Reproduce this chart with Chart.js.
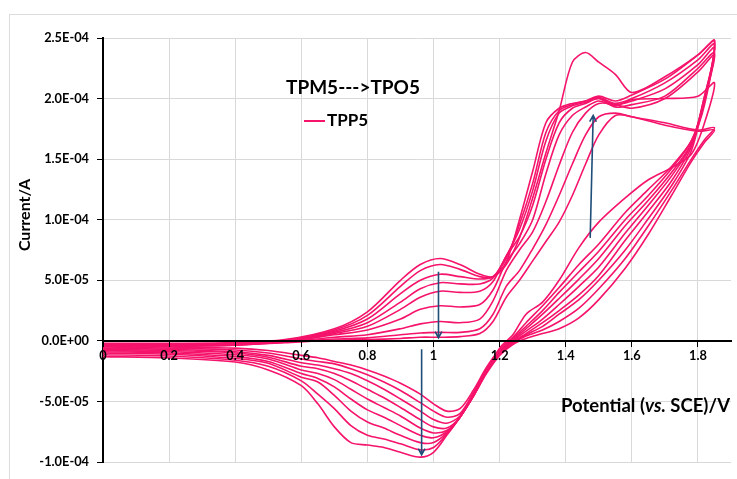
<!DOCTYPE html>
<html>
<head>
<meta charset="utf-8">
<script src="https://cdn.jsdelivr.net/npm/chart.js@4.4.0/dist/chart.umd.min.js"></script>
<style>
  body { margin: 0; background: #fff; }
  #wrap { position: relative; width: 737px; height: 479px; overflow: hidden; }
  #frame { position: absolute; left: 9px; top: 14px; width: 780px; height: 520px; border: 1px solid #dcdcdc; }
  canvas { position: absolute; left: 0; top: 0; }
</style>
</head>
<body>
<div id="wrap"><div id="frame"></div><canvas id="cv" width="737" height="479"></canvas></div>
<script>
// potential of each sweep (V)
const fwdE = [0, 0.2, 0.4, 0.55, 0.7, 0.8, 0.9, 0.96, 1.02, 1.08, 1.14, 1.18, 1.22, 1.26, 1.3, 1.34, 1.38, 1.42, 1.46, 1.5, 1.55, 1.6, 1.7, 1.8, 1.85];
const revE = [1.82, 1.78, 1.72, 1.65, 1.58, 1.5, 1.44, 1.38, 1.33, 1.28, 1.24, 1.2, 1.16, 1.12, 1.08, 1.04, 1.0, 0.96, 0.9, 0.85, 0.8, 0.75, 0.7, 0.65, 0.6, 0.5, 0.4, 0.2, 0];

// current, in units of 1e-5 A, one forward + one reverse sweep per cycle
const fwd1 = [-0.2, -0.2, -0.15, 0.1, 1.0, 2.4, 5.0, 6.3, 6.8, 6.3, 5.5, 5.3, 6.3, 8.5, 11.8, 15.5, 19.0, 23.0, 23.8, 23.0, 22.0, 20.5, 21.8, 23.6, 24.8];
const rev1 = [19.5, 16.5, 14.4, 12.5, 10.6, 8.0, 6.3, 4.4, 2.9, 1.5, 0.3, -0.7, -2.2, -4.1, -5.6, -5.8, -5.2, -4.4, -3.5, -2.9, -2.4, -2.0, -1.7, -1.4, -1.2, -0.8, -0.6, -0.5, -0.4];
const fwd2 = [-0.25, -0.25, -0.2, 0.05, 0.9, 2.1, 4.5, 5.8, 6.3, 5.9, 5.3, 5.3, 6.5, 10.0, 14.0, 18.0, 19.2, 19.6, 19.8, 20.2, 19.8, 20.3, 21.6, 23.6, 24.8];
const rev2 = [19.8, 16.5, 14.2, 12.0, 10.0, 7.4, 5.7, 4.0, 2.5, 1.2, 0.2, -0.8, -2.3, -4.3, -6.0, -6.3, -5.8, -5.1, -4.1, -3.4, -2.8, -2.3, -1.9, -1.7, -1.5, -1.0, -0.75, -0.6, -0.5];
const fwd3 = [-0.3, -0.3, -0.2, 0.0, 0.8, 1.8, 3.9, 5.0, 5.5, 5.3, 5.1, 5.3, 6.8, 9.6, 13.0, 17.2, 19.0, 19.5, 19.8, 20.1, 19.6, 20.0, 21.3, 23.2, 24.5];
const rev3 = [20.0, 16.3, 13.9, 11.6, 9.5, 6.8, 5.1, 3.5, 2.2, 1.0, 0.1, -0.9, -2.4, -4.4, -6.2, -6.8, -6.5, -5.8, -4.8, -4.0, -3.3, -2.7, -2.3, -2.0, -1.8, -1.2, -0.9, -0.7, -0.6];
const fwd4 = [-0.3, -0.3, -0.25, 0.0, 0.7, 1.5, 3.2, 4.3, 4.8, 4.7, 4.7, 5.2, 7.0, 9.2, 12.4, 16.5, 18.8, 19.4, 19.7, 20.0, 19.5, 19.8, 20.8, 22.8, 24.2];
const rev4 = [20.2, 16.2, 13.6, 11.2, 8.9, 6.1, 4.5, 3.0, 1.8, 0.8, 0.0, -0.9, -2.4, -4.5, -6.3, -7.2, -7.1, -6.5, -5.5, -4.7, -4.0, -3.3, -2.7, -2.3, -2.1, -1.35, -1.0, -0.8, -0.7];
const fwd5 = [-0.35, -0.35, -0.25, -0.05, 0.6, 1.2, 2.6, 3.6, 4.1, 4.0, 4.1, 4.9, 7.0, 8.6, 11.2, 15.0, 18.0, 19.2, 19.6, 20.0, 19.3, 19.5, 20.2, 22.5, 23.8];
const rev5 = [20.2, 16.0, 13.2, 10.7, 8.3, 5.4, 3.8, 2.5, 1.5, 0.6, -0.1, -1.0, -2.5, -4.5, -6.3, -7.4, -7.6, -7.2, -6.2, -5.5, -4.8, -4.0, -3.2, -2.7, -2.4, -1.5, -1.15, -0.9, -0.8];
const fwd6 = [-0.35, -0.35, -0.3, -0.05, 0.5, 0.9, 1.8, 2.6, 2.9, 2.8, 3.0, 4.2, 6.5, 8.0, 10.0, 13.8, 17.0, 18.6, 19.3, 19.8, 19.4, 19.9, 20.0, 20.2, 21.3];
const rev6 = [18.0, 15.4, 14.3, 13.3, 11.8, 9.8, 7.7, 5.0, 3.2, 2.2, 0.5, -0.6, -2.5, -4.5, -6.3, -7.5, -8.0, -7.8, -7.0, -6.3, -5.7, -4.8, -3.8, -3.1, -2.7, -1.7, -1.3, -1.0, -0.9];
const fwd7 = [-0.4, -0.4, -0.3, -0.1, 0.3, 0.5, 1.0, 1.4, 1.6, 1.5, 1.8, 3.3, 5.8, 7.5, 9.0, 11.5, 14.5, 17.2, 18.8, 19.6, 19.5, 19.2, 20.0, 22.2, 23.6];
const rev7 = [20.0, 15.7, 12.8, 10.1, 7.5, 5.0, 3.4, 2.2, 1.2, 0.5, -0.1, -1.0, -2.6, -4.6, -6.3, -7.6, -8.4, -8.4, -7.8, -7.2, -6.7, -5.8, -4.5, -3.4, -3.0, -1.85, -1.45, -1.1, -1.0];
const fwd8 = [-0.4, -0.4, -0.35, -0.1, 0.15, 0.25, 0.5, 0.65, 0.7, 0.7, 1.0, 2.2, 4.5, 5.8, 7.6, 9.6, 12.0, 14.6, 17.0, 18.5, 18.8, 18.5, 18.0, 17.4, 17.6];
const rev8 = [16.6, 15.0, 12.4, 9.5, 6.8, 4.3, 2.7, 1.6, 0.9, 0.4, -0.2, -1.1, -2.6, -4.6, -6.3, -7.7, -8.8, -9.0, -8.5, -8.1, -7.8, -7.0, -5.6, -4.4, -3.3, -2.1, -1.6, -1.25, -1.15];
const fwd9 = [-0.45, -0.45, -0.35, -0.15, 0.05, 0.1, 0.2, 0.3, 0.3, 0.35, 0.6, 1.6, 3.6, 5.0, 6.6, 8.2, 9.8, 12.0, 14.6, 17.0, 18.6, 18.5, 17.8, 17.3, 17.4];
const rev9 = [16.4, 14.8, 12.0, 8.8, 6.0, 3.4, 1.9, 1.0, 0.6, 0.2, -0.3, -1.2, -2.7, -4.6, -6.3, -7.8, -9.2, -9.6, -9.2, -8.8, -8.6, -8.4, -7.1, -5.2, -3.7, -2.4, -1.75, -1.4, -1.3];

const xTicks = [0, 0.2, 0.4, 0.6, 0.8, 1, 1.2, 1.4, 1.6, 1.8];
const xTickLabels = ['0', '0.2', '0.4', '0.6', '0.8', '1', '1.2', '1.4', '1.6', '1.8'];
const yTicks = [-10, -5, 0, 5, 10, 15, 20, 25];
const yTickLabels = ['-1.0E-04', '-5.0E-05', '0.0E+00', '5.0E-05', '1.0E-04', '1.5E-04', '2.0E-04', '2.5E-04'];

// blue arrows: [E, current] tail and head
const arrowFrom = [[1.015, 5.7], [0.964, -0.7], [1.474, 8.5]];
const arrowTo = [[1.015, 0.25], [0.964, -9.4], [1.483, 18.6]];

const pink = '#f5136b';
const cycles = [[fwd1, rev1], [fwd2, rev2], [fwd3, rev3], [fwd4, rev4], [fwd5, rev5], [fwd6, rev6], [fwd7, rev7], [fwd8, rev8], [fwd9, rev9]];

const datasets = cycles.map(([f, r]) => ({
  label: 'TPP5',
  data: fwdE.map((e, i) => ({ x: e, y: f[i] })).concat(revE.map((e, i) => ({ x: e, y: r[i] }))),
  showLine: true,
  borderColor: pink,
  borderWidth: 1.6,
  pointRadius: 0,
  tension: 0.3,
  fill: false
}));

const font = 'Lato, "Open Sans", sans-serif';
const tickFont = { family: font, size: 12.8, weight: 'bold' };

const overlay = {
  id: 'overlay',
  afterDatasetsDraw(chart) {
    const { ctx, chartArea, scales: { x, y } } = chart;
    ctx.save();
    // arrows
    ctx.strokeStyle = '#1f4e79';
    ctx.lineWidth = 1.6;
    arrowFrom.forEach((p, i) => {
      const x0 = x.getPixelForValue(p[0]), y0 = y.getPixelForValue(p[1]);
      const x1 = x.getPixelForValue(arrowTo[i][0]), y1 = y.getPixelForValue(arrowTo[i][1]);
      const a = Math.atan2(y1 - y0, x1 - x0);
      ctx.beginPath();
      ctx.moveTo(x0, y0);
      ctx.lineTo(x1, y1);
      ctx.moveTo(x1 - 7 * Math.cos(a - 0.5), y1 - 7 * Math.sin(a - 0.5));
      ctx.lineTo(x1, y1);
      ctx.lineTo(x1 - 7 * Math.cos(a + 0.5), y1 - 7 * Math.sin(a + 0.5));
      ctx.stroke();
    });

    // title and legend
    ctx.fillStyle = '#000';
    ctx.textBaseline = 'middle';
    ctx.textAlign = 'left';
    ctx.font = 'bold 19px ' + font;
    ctx.fillText('TPM5--->TPO5', chartArea.left + 183, chartArea.top + 50);
    ctx.strokeStyle = pink;
    ctx.lineWidth = 2;
    ctx.beginPath();
    ctx.moveTo(chartArea.left + 201, chartArea.top + 83);
    ctx.lineTo(chartArea.left + 222, chartArea.top + 83);
    ctx.stroke();
    ctx.font = 'bold 17px ' + font;
    ctx.fillText('TPP5', chartArea.left + 224, chartArea.top + 83);

    // x axis title, with "vs." in italics
    const parts = [['Potential (', 'bold'], ['vs.', 'italic bold'], [' SCE)/V', 'bold']];
    let px = chartArea.right - 1;
    const py = chartArea.top + 368;
    ctx.textAlign = 'right';
    for (let i = parts.length - 1; i >= 0; i--) {
      ctx.font = parts[i][1] + ' 18.5px ' + font;
      ctx.fillText(parts[i][0], px, py);
      px -= ctx.measureText(parts[i][0]).width;
    }

    // y axis title
    ctx.translate(25, chartArea.top + 177);
    ctx.rotate(-Math.PI / 2);
    ctx.textAlign = 'center';
    ctx.font = 'bold 16px ' + font;
    ctx.fillText('Current/A', 0, 0);
    ctx.restore();
  }
};

new Chart(document.getElementById('cv'), {
  type: 'scatter',
  data: { datasets },
  options: {
    responsive: false,
    animation: false,
    devicePixelRatio: 1,
    layout: { padding: { top: 38, right: 6, bottom: 17, left: 0 } },
    plugins: { legend: { display: false }, tooltip: { enabled: false } },
    scales: {
      // grid only, under the curves
      x: {
        type: 'linear',
        min: 0,
        max: 1.9,
        position: { y: 0 },
        afterFit: s => { s.height = 0; },
        afterBuildTicks: s => { s.ticks = xTicks.map(v => ({ value: v })); },
        grid: { color: '#d9d9d9', lineWidth: 1, drawTicks: false },
        border: { display: false },
        ticks: { display: false }
      },
      // axis line, tick marks and labels, over the curves
      xAxis: {
        type: 'linear',
        axis: 'x',
        min: 0,
        max: 1.9,
        position: { y: 0 },
        afterFit: s => { s.height = 0; },
        afterBuildTicks: s => { s.ticks = xTicks.map(v => ({ value: v })); },
        grid: { drawOnChartArea: false, tickLength: 5, tickColor: '#000', z: 1 },
        border: { color: '#000', width: 2, z: 1 },
        ticks: {
          color: '#000', padding: 2, maxRotation: 0, autoSkip: false, z: 1,
          font: tickFont,
          callback: (v, i) => xTickLabels[i]
        }
      },
      y: {
        type: 'linear',
        min: -10,
        max: 25,
        afterFit: s => { s.width = 103; },
        afterBuildTicks: s => { s.ticks = yTicks.map(v => ({ value: v })); },
        grid: { color: '#d9d9d9', lineWidth: 1, tickLength: 6, tickColor: '#000' },
        border: { color: '#000', width: 2 },
        ticks: {
          color: '#000', padding: 8,
          font: tickFont,
          callback: (v, i) => yTickLabels[i]
        }
      }
    }
  },
  plugins: [overlay]
});
</script>
</body>
</html>
